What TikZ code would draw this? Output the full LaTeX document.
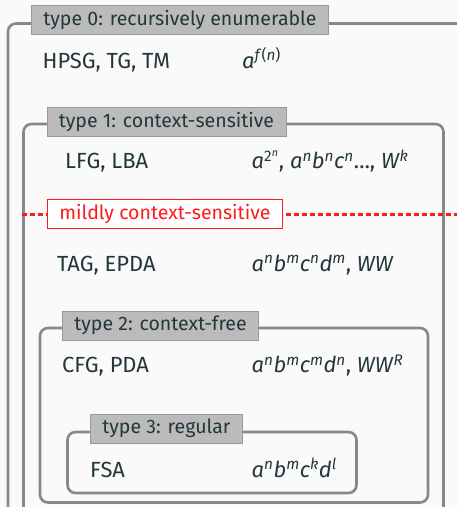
\documentclass[tikz,border=0pt]{standalone}
\usepackage{fontspec}
\setmainfont{Fira Sans}
\definecolor{fg}{HTML}{23373B}
\definecolor{bg}{HTML}{FAFAFA}
\definecolor{frame}{HTML}{888888}
\definecolor{lab}{HTML}{BBBBBB}
\definecolor{labdraw}{HTML}{999999}
\definecolor{mred}{HTML}{FF1A1A}
\newcommand\vi[1]{\textit{#1}}
\newcommand\sps[1]{\textsuperscript{#1}}
\tikzset{
  frm/.style={draw=frame,line width=2.6bp,rounded corners=8bp},
  lbl/.style={fill=lab,draw=labdraw,line width=0.8bp,text=fg,anchor=west,
    minimum height=29bp,inner xsep=12bp,inner ysep=0bp,font=\fontsize{19.6}{22}\selectfont},
  txt/.style={text=fg,anchor=base west,inner sep=0bp,font=\fontsize{22}{25}\selectfont},
}
\begin{document}
\begin{tikzpicture}[x=1bp,y=-1bp]
\fill[bg] (0,0) rectangle (457,507);
\useasboundingbox (0,0) rectangle (457,507);
\clip (0,0) rectangle (457,507);
% boxes
\draw[frm] (8,23.5) rectangle (475,540);
\draw[frm] (23.5,124) rectangle (443.5,540);
\draw[frm] (40,328) rectangle (428,502.5);
\draw[frm] (67.5,432) rectangle (356.5,493);
% labels
\node[lbl] (l0) at (31,20) {type 0: recursively enumerable};
\node[lbl] (l1) at (46.5,121.5) {type 1: context-sensitive};
\node[lbl] (l2) at (62,325.5) {type 2: context-free};
\node[lbl] (l3) at (90,428.5) {type 3: regular};
% mildly context-sensitive
\coordinate (dl) at (22,214);
\coordinate (dr) at (460,214);
\draw[mred,line width=3bp,dash pattern=on 4.5bp off 3.5bp] (dl) -- (dr);
\node[lbl,fill=white,draw=mred,text=mred] (mcs) at (47,214) {mildly context-sensitive};
% rows
\node[txt] (t0) at (42.5,68.3) {HPSG, TG, TM};
\node[txt] (m0) at (242,68.3) {\vi{a}\sps{\vi{f}(\vi{n})}};
\node[txt] (t1) at (65,169) {LFG, LBA};
\node[txt] (m1) at (251.5,169) {\vi{a}\sps{2\sps{\vi{n}}}, \vi{a}\sps{\vi{n}}\vi{b}\sps{\vi{n}}\vi{c}\sps{\vi{n}}\ldots, \vi{W}\sps{\vi{k}}};
\node[txt] (t2) at (57,271) {TAG, EPDA};
\node[txt] (m2) at (251.5,271) {\vi{a}\sps{\vi{n}}\vi{b}\sps{\vi{m}}\vi{c}\sps{\vi{n}}\vi{d}\sps{\vi{m}}, \vi{WW}};
\node[txt] (t3) at (62,372.7) {CFG, PDA};
\node[txt] (m3) at (251.5,372.7) {\vi{a}\sps{\vi{n}}\vi{b}\sps{\vi{m}}\vi{c}\sps{\vi{m}}\vi{d}\sps{\vi{n}}, \vi{WW}\sps{\vi{R}}};
\node[txt] (t4) at (90,477) {FSA};
\node[txt] (m4) at (251.5,477) {\vi{a}\sps{\vi{n}}\vi{b}\sps{\vi{m}}\vi{c}\sps{\vi{k}}\vi{d}\sps{\vi{l}}};
\end{tikzpicture}
\end{document}
